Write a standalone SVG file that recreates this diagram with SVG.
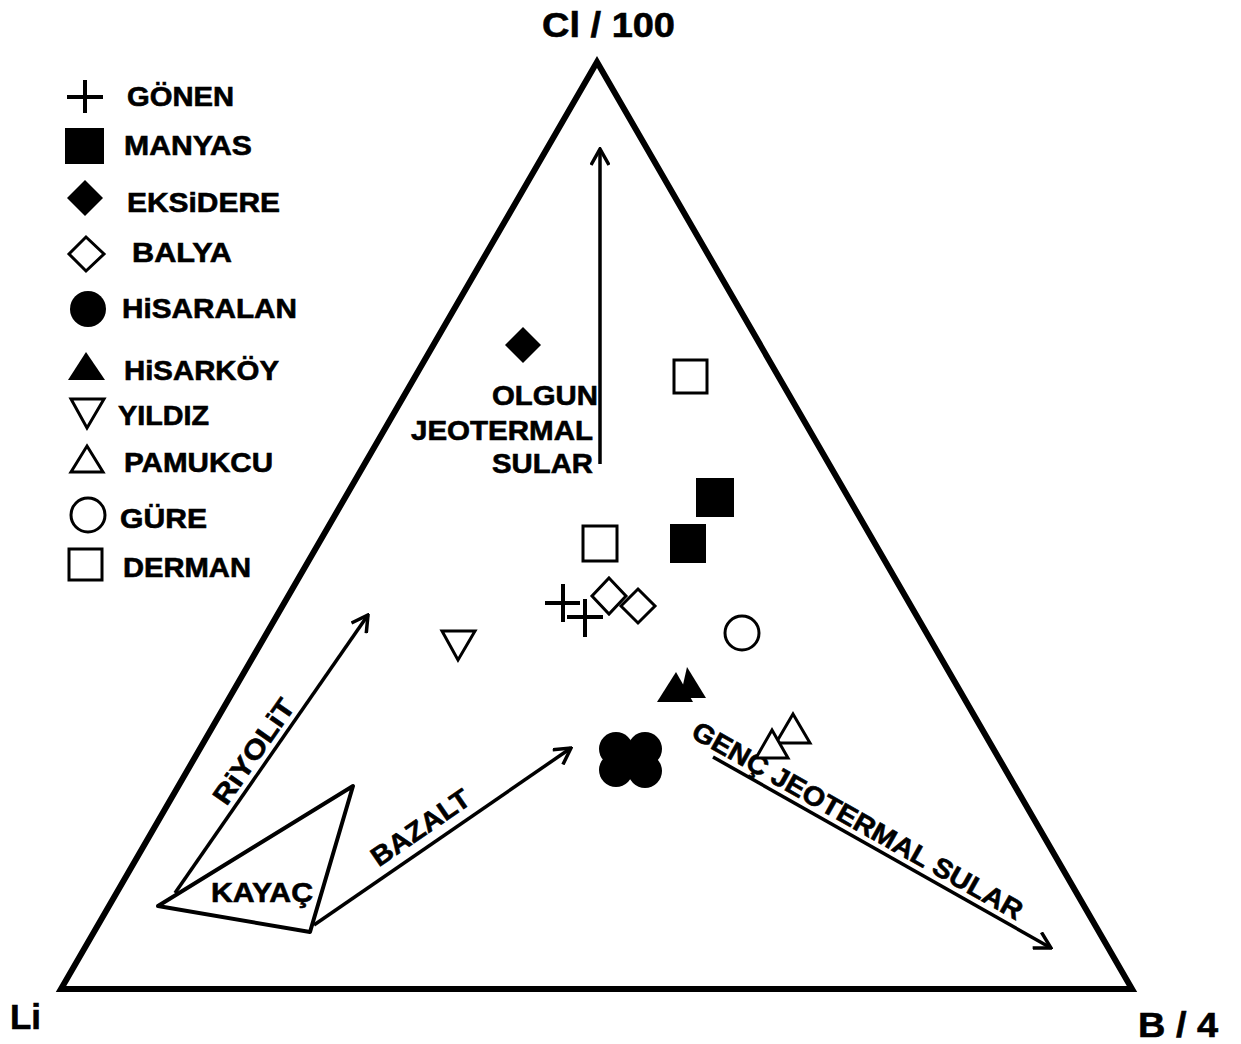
<svg xmlns="http://www.w3.org/2000/svg" width="1241" height="1044" viewBox="0 0 1241 1044">
<defs>
<style>
text{font-family:"Liberation Sans",Arial,sans-serif;font-weight:bold;fill:#000;stroke:#000;stroke-width:0.6}
.lg{font-size:27px}
.ax{font-size:35px}
.fill{fill:#000;stroke:none}
.open{fill:#fff;stroke:#000;stroke-width:3}
.cross{stroke:#000;stroke-width:4;fill:none}
.arr{stroke:#000;stroke-width:3.5;fill:none;marker-end:url(#ah)}
</style>
<marker id="ah" viewBox="0 0 20 20" refX="18" refY="10" markerWidth="20" markerHeight="20" markerUnits="userSpaceOnUse" orient="auto">
<path d="M2,1 L18,10 L2,19" fill="none" stroke="#000" stroke-width="3.5"/>
</marker>
</defs>
<rect width="1241" height="1044" fill="#fff"/>

<g id="frame">
<polygon points="597,62 61,989 1132,989" fill="none" stroke="#000" stroke-width="6"/>
<text class="ax" x="542" y="37" textLength="133" lengthAdjust="spacingAndGlyphs">Cl / 100</text>
<text class="ax" x="10" y="1029" textLength="31" lengthAdjust="spacingAndGlyphs">Li</text>
<text class="ax" x="1138" y="1037" textLength="80" lengthAdjust="spacingAndGlyphs">B / 4</text>
</g>

<g id="legend">
<g id="lg-gonen"><path class="cross" d="M67,97 H103 M85,80 V113"/><text class="lg" x="127" y="106" textLength="107" lengthAdjust="spacingAndGlyphs">GÖNEN</text></g>
<g id="lg-manyas"><rect class="fill" x="65" y="128" width="39" height="36"/><text class="lg" x="124" y="155" textLength="128" lengthAdjust="spacingAndGlyphs">MANYAS</text></g>
<g id="lg-eksidere"><polygon class="fill" points="85,180 103,198 85,216 67,198"/><text class="lg" x="127" y="212" textLength="153" lengthAdjust="spacingAndGlyphs">EKSiDERE</text></g>
<g id="lg-balya"><polygon class="open" points="86,237 104,254 86,271 69,254"/><text class="lg" x="132" y="262" textLength="100" lengthAdjust="spacingAndGlyphs">BALYA</text></g>
<g id="lg-hisaralan"><circle class="fill" cx="88" cy="309" r="18"/><text class="lg" x="122" y="318" textLength="175" lengthAdjust="spacingAndGlyphs">HiSARALAN</text></g>
<g id="lg-hisarkoy"><polygon class="fill" points="86,352 105,380 68,380"/><text class="lg" x="124" y="380" textLength="155" lengthAdjust="spacingAndGlyphs">HiSARKÖY</text></g>
<g id="lg-yildiz"><polygon class="open" points="71,399 104,399 87,428" stroke-width="2"/><text class="lg" x="118" y="425" textLength="91" lengthAdjust="spacingAndGlyphs">YILDIZ</text></g>
<g id="lg-pamukcu"><polygon class="open" points="87,446 103,472 71,472" stroke-width="2"/><text class="lg" x="124" y="472" textLength="149" lengthAdjust="spacingAndGlyphs">PAMUKCU</text></g>
<g id="lg-gure"><circle class="open" cx="88" cy="515" r="17" stroke-width="2.5"/><text class="lg" x="120" y="528" textLength="87" lengthAdjust="spacingAndGlyphs">GÜRE</text></g>
<g id="lg-derman"><rect class="open" x="69" y="549" width="33" height="31"/><text class="lg" x="123" y="577" textLength="128" lengthAdjust="spacingAndGlyphs">DERMAN</text></g>
</g>

<g id="connectors">
<line class="arr" x1="600" y1="464" x2="600" y2="149"/>
<line class="arr" x1="175" y1="893" x2="368" y2="615"/>
<line class="arr" x1="314" y1="925" x2="571" y2="748"/>
<line class="arr" x1="713" y1="757" x2="1051" y2="948"/>
</g>

<g id="kayac">
<polygon points="158,906 353,786 310,932" fill="none" stroke="#000" stroke-width="4" stroke-linejoin="round"/>
<text class="lg" x="211" y="902" textLength="102" lengthAdjust="spacingAndGlyphs">KAYAÇ</text>
</g>

<g id="labels">
<g id="olgun">
<text class="lg" x="598" y="405" text-anchor="end" textLength="106" lengthAdjust="spacingAndGlyphs">OLGUN</text>
<text class="lg" x="593" y="440" text-anchor="end" textLength="182" lengthAdjust="spacingAndGlyphs">JEOTERMAL</text>
<text class="lg" x="593" y="473" text-anchor="end" textLength="101" lengthAdjust="spacingAndGlyphs">SULAR</text>
</g>
<text class="lg" transform="translate(253,751) rotate(-55.2)" x="0" y="10" text-anchor="middle" textLength="122" lengthAdjust="spacingAndGlyphs">RiYOLiT</text>
<text class="lg" transform="translate(420,827) rotate(-34.6)" x="0" y="10" text-anchor="middle" textLength="114" lengthAdjust="spacingAndGlyphs">BAZALT</text>
<text class="lg" transform="translate(858,820) rotate(29.4)" x="0" y="10" text-anchor="middle" textLength="375" lengthAdjust="spacingAndGlyphs">GENÇ JEOTERMAL SULAR</text>
</g>

<g id="data">
<g id="d-eksidere"><polygon class="fill" points="523,327 541,345 523,363 505,345"/></g>
<g id="d-derman"><rect class="open" x="674" y="360" width="33" height="33"/><rect class="open" x="583" y="526" width="34" height="35"/></g>
<g id="d-manyas"><rect class="fill" x="696" y="478" width="38" height="39"/><rect class="fill" x="670" y="524" width="36" height="39"/></g>
<g id="d-gonen"><path class="cross" d="M545,603 H580 M563,584 V622 M567,617 H603 M585,599 V637"/></g>
<g id="d-balya"><polygon class="open" points="609,578 626,596 609,614 592,596"/><polygon class="open" points="638,589 655,606 638,623 621,606"/></g>
<g id="d-yildiz"><polygon class="open" points="442,631 475,631 458,660" stroke-width="2"/></g>
<g id="d-gure"><circle class="open" cx="742" cy="633" r="17" stroke-width="2.5"/></g>
<g id="d-hisarkoy"><polygon class="fill" points="676,672 693,702 657,702"/><polygon class="fill" points="687,667 706,698 680,698"/></g>
<g id="d-hisaralan"><rect class="fill" x="614" y="747" width="33" height="26"/><circle class="fill" cx="616" cy="749" r="17"/><circle class="fill" cx="645" cy="749" r="17"/><circle class="fill" cx="616" cy="770" r="17"/><circle class="fill" cx="645" cy="771" r="17"/></g>
<g id="d-pamukcu"><polygon class="open" points="793,714 810,743 776,743" stroke-width="2"/><polygon class="open" points="772,730 788,758 756,758" stroke-width="2"/></g>
</g>
</svg>
